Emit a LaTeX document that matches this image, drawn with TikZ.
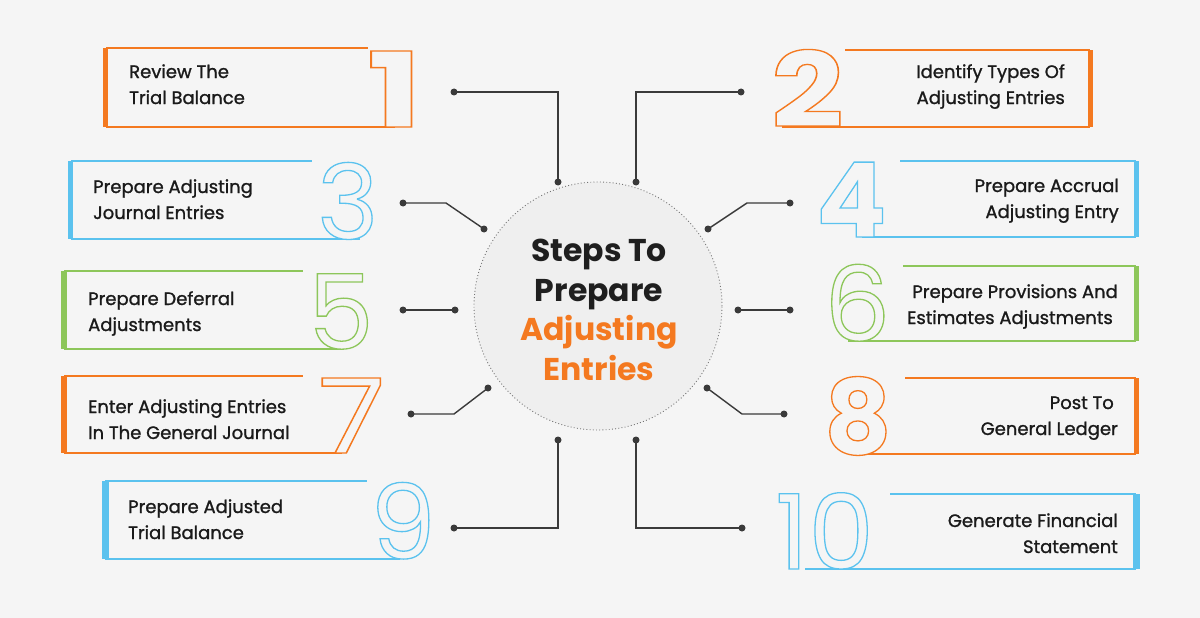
\documentclass[tikz,border=0pt]{standalone}
\usepackage{fontspec}
\usepackage{graphicx}
\setmainfont{Poppins}
\newfontfamily\medfont{Poppins}[FakeBold=1.2]
\definecolor{bgc}{HTML}{F5F5F5}
\definecolor{circ}{HTML}{EFEFEF}
\definecolor{org}{HTML}{F47920}
\definecolor{blu}{HTML}{5BC2EE}
\definecolor{grn}{HTML}{8DC65A}
\definecolor{lin}{HTML}{3A3A3A}
\definecolor{txt}{HTML}{1A1A1A}
\newcommand\outdigit[2]{\rlap{\color{bgc}#2}{\color{#1}\special{pdf:literal direct 1 Tr 1.3 w}#2\special{pdf:literal direct 0 Tr}}}
\tikzset{
  frameline/.style={line width=1.6pt},
  steptext/.style={font=\medfont\fontsize{18}{26}\selectfont, text=txt, inner sep=0pt},
  digitnode/.style={inner sep=0pt, font=\fontsize{104}{104}\selectfont},
  bolddigit/.style={inner sep=0pt, font=\fontsize{104}{104}\selectfont\bfseries},
  conn/.style={lin, line width=1.4pt},
  dotc/.style={fill=lin}
}
\begin{document}
\begin{tikzpicture}[x=1pt,y=-1pt]
\useasboundingbox (0,0) rectangle (1200,618);
\fill[bgc] (0,0) rectangle (1200,618);

% centre circle
\node[circle, minimum size=248pt, inner sep=0pt, fill=circ, draw=black!55, line width=0.9pt, dash pattern=on 0.9pt off 2.3pt] (hub) at (598,306) {};
\node[align=center, font=\fontsize{31.5}{39.5}\selectfont\bfseries, text=black!88, anchor=base] (title) at (599,380)
  {Steps To\\Prepare\\\textcolor{org}{Adjusting}\\\textcolor{org}{Entries}};

% ---------- box 1
\fill[org] (103,48) rectangle (108,127);
\draw[org, frameline] (106,48) -- (368,48);
\draw[org, frameline] (106,127) -- (395,127);
\node[bolddigit, anchor=base west] (d1) at (367,127) {\scalebox{1.4}[1]{\outdigit{org}{1}}};
\node[steptext, align=left, anchor=base west] (t1) at (129,104) {Review The\\Trial Balance};

% ---------- box 2
\fill[org] (1088,50) rectangle (1093,127);
\draw[org, frameline] (845,50) -- (1090,50);
\draw[org, frameline] (782,127) -- (1090,127);
\node[bolddigit, anchor=base west] (d2) at (771,127) {\scalebox{1.22}[1]{\outdigit{org}{2}}};
\node[steptext, align=right, anchor=base east] (t2) at (1065,104) {Identify Types Of\\Adjusting Entries};

% ---------- box 3
\fill[blu] (68,161) rectangle (73,239);
\draw[blu, frameline] (71,161) -- (312,161);
\draw[blu, frameline] (71,239) -- (360,239);
\node[digitnode, anchor=base west] (d3) at (317,239) {\outdigit{blu}{3}};
\node[steptext, align=left, anchor=base west] (t3) at (93,219) {Prepare Adjusting\\Journal Entries};

% ---------- box 4
\fill[blu] (1134,161) rectangle (1139,237);
\draw[blu, frameline] (900,161) -- (1136,161);
\draw[blu, frameline] (862,237) -- (1136,237);
\node[bolddigit, anchor=base west] (d4) at (816,237) {\outdigit{blu}{4}};
\node[steptext, align=right, anchor=base east] (t4) at (1119,218) {Prepare Accrual\\Adjusting Entry};

% ---------- box 5
\fill[grn] (61,271) rectangle (67,349);
\draw[grn, frameline] (64,271) -- (303,271);
\draw[grn, frameline] (64,349) -- (340,349);
\node[digitnode, anchor=base west] (d5) at (308,349) {\outdigit{grn}{5}};
\node[steptext, align=left, anchor=base west] (t5) at (88,331) {Prepare Deferral\\Adjustments};

% ---------- box 6
\fill[grn] (1134,266) rectangle (1139,341);
\draw[grn, frameline] (903,266) -- (1136,266);
\draw[grn, frameline] (848,341) -- (1136,341);
\node[digitnode, anchor=base west] (d6) at (824,341) {\outdigit{grn}{6}};
\node[steptext, align=right, anchor=base east] (t6) at (1118,324) {Prepare Provisions And\\Estimates Adjustments\hspace*{5pt}};

% ---------- box 7
\fill[org] (61,376) rectangle (67,453);
\draw[org, frameline] (64,376) -- (303,376);
\draw[org, frameline] (64,453) -- (342,453);
\node[digitnode, anchor=base west] (d7) at (318,453) {\scalebox{1.18}[1]{\outdigit{org}{7}}};
\node[steptext, align=left, anchor=base west] (t7) at (88,439) {Enter Adjusting Entries\\In The General Journal};

% ---------- box 8
\fill[org] (1134,378) rectangle (1139,454);
\draw[org, frameline] (905,378) -- (1136,378);
\draw[org, frameline] (850,454) -- (1136,454);
\node[bolddigit, anchor=base west] (d8) at (824,454) {\outdigit{org}{8}};
\node[steptext, align=right, anchor=base east] (t8) at (1118,435) {Post To\hspace*{4pt}\\General Ledger};

% ---------- box 9
\fill[blu] (102,481) rectangle (109,559);
\draw[blu, frameline] (105,481) -- (367,481);
\draw[blu, frameline] (105,559) -- (400,559);
\node[digitnode, anchor=base west] (d9) at (370,559) {\outdigit{blu}{9}};
\node[steptext, align=left, anchor=base west] (t9) at (128,539) {Prepare Adjusted\\Trial Balance};

% ---------- box 10
\fill[blu] (1133,494) rectangle (1140,569);
\draw[blu, frameline] (890,494) -- (1136,494);
\draw[blu, frameline] (805,569) -- (1136,569);
\node[digitnode, anchor=base west] (d10) at (775,569) {\outdigit{blu}{10}};
\node[steptext, align=right, anchor=base east] (t10) at (1118,553) {Generate Financial\\Statement};

% ---------- connectors
\coordinate (c1a) at (454,92);  \coordinate (c1b) at (558,182);
\coordinate (c2a) at (741,92);  \coordinate (c2b) at (636,182);
\coordinate (c3a) at (403,203); \coordinate (c3k) at (446,203); \coordinate (c3b) at (484,229);
\coordinate (c4a) at (790,203); \coordinate (c4k) at (747,203); \coordinate (c4b) at (708,229);
\coordinate (c5a) at (403,310); \coordinate (c5b) at (455,310);
\coordinate (c6a) at (738,310); \coordinate (c6b) at (790,310);
\coordinate (c7a) at (411,414); \coordinate (c7k) at (454,414); \coordinate (c7b) at (488,388);
\coordinate (c8a) at (784,414); \coordinate (c8k) at (742,414); \coordinate (c8b) at (707,388);
\coordinate (c9a) at (454,528); \coordinate (c9b) at (558,440);
\coordinate (c10a) at (742,528); \coordinate (c10b) at (636,440);

\draw[conn] (c1a) -| (c1b);
\draw[conn] (c2a) -| (c2b);
\draw[conn] (c3a) -- (c3k) -- (c3b);
\draw[conn] (c4a) -- (c4k) -- (c4b);
\draw[conn] (c5a) -- (c5b);
\draw[conn] (c6a) -- (c6b);
\draw[conn] (c7a) -- (c7k) -- (c7b);
\draw[conn] (c8a) -- (c8k) -- (c8b);
\draw[conn] (c9b) |- (c9a);
\draw[conn] (c10b) |- (c10a);
\foreach \c in {c1a,c1b,c2a,c2b,c3a,c3b,c4a,c4b,c5a,c5b,c6a,c6b,c7a,c7b,c8a,c8b,c9a,c9b,c10a,c10b}
  \fill[dotc] (\c) circle (3.5pt);
\end{tikzpicture}
\end{document}
